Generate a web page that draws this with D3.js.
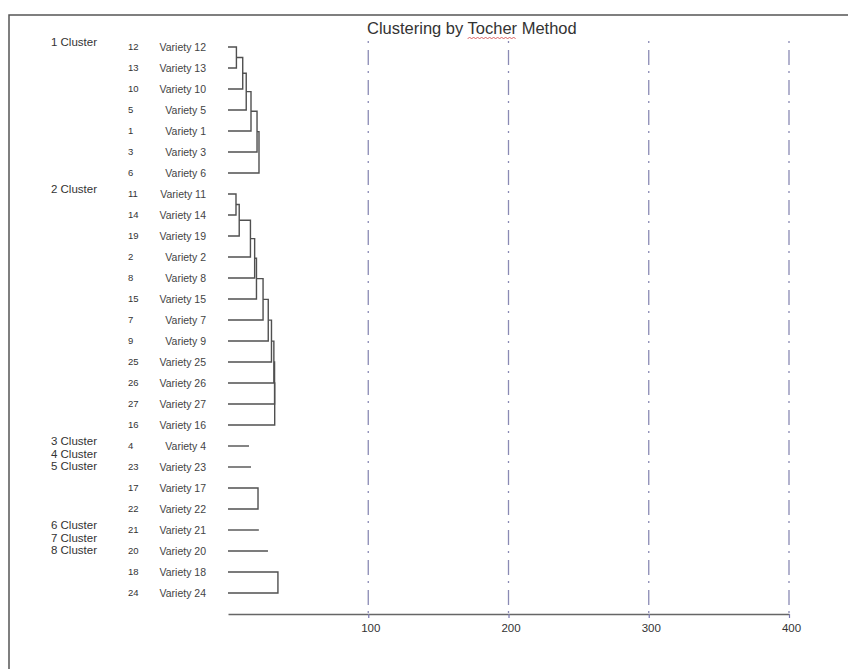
<!DOCTYPE html>
<html>
<head>
<meta charset="utf-8">
<script src="https://cdn.jsdelivr.net/npm/d3@7"></script>
<style>
  html, body { margin: 0; padding: 0; background: #fff; }
  svg { display: block; font-family: 'Liberation Sans', Arial, sans-serif; }
</style>
</head>
<body>
<div id="chart"></div>
<script>
// Tocher clusters: leaf order and the chained merge heights inside each cluster
const clusterLabels = ['1 Cluster', '2 Cluster', '3 Cluster', '4 Cluster', '5 Cluster', '6 Cluster', '7 Cluster', '8 Cluster'];
const clusterLeaves = [
  [12, 13, 10, 5, 1, 3, 6],
  [11, 14, 19, 2, 8, 15, 7, 9, 25, 26, 27, 16],
  [4],
  [23],
  [17, 22],
  [21],
  [20],
  [18, 24]
];
const clusterMerges = [
  [6, 10.5, 13, 16.4, 20.7, 22.1],
  [5.7, 8, 16, 19, 20.3, 25, 28.7, 31, 32.7, 33.2, 33.3],
  [15],
  [16.4],
  [21.4],
  [22],
  [28.5],
  [35.6]
];
const axisTicks = [100, 200, 300, 400];
const title = 'Clustering by Tocher Method';

const width = 848;
const height = 669;

const svg = d3.select('#chart')
  .append('svg')
  .attr('width', width)
  .attr('height', height);

// frame (cropped: only top and left edges are visible)
svg.append('path')
  .attr('d', `M9,${height} L9,15 L${width},15`)
  .attr('fill', 'none')
  .attr('stroke', '#555')
  .attr('stroke-width', 1.5);

const leafOrder = clusterLeaves.flat();

// scales
const x = d3.scaleLinear()
  .domain([0, 400])
  .range([228, 789]);

const y = d3.scalePoint()
  .domain(leafOrder)
  .range([47, 593]);

const axisY = 614;

// vertical dash-dot reference lines
svg.append('g')
  .selectAll('line')
  .data(axisTicks)
  .enter()
  .append('line')
  .attr('x1', d => x(d))
  .attr('x2', d => x(d))
  .attr('y1', 41)
  .attr('y2', axisY)
  .attr('stroke', '#8a8ab4')
  .attr('stroke-width', 1.3)
  .attr('stroke-dasharray', '2,7,15,6');

// bottom axis
const axis = svg.append('g')
  .attr('transform', `translate(0,${axisY})`)
  .call(d3.axisBottom(x).tickValues(axisTicks).tickSize(4).tickSizeOuter(0).tickPadding(6));

axis.select('.domain')
  .attr('stroke', '#666')
  .attr('stroke-width', 1.5);

axis.selectAll('.tick line')
  .attr('stroke', '#7a7ab0')
  .attr('stroke-width', 1.2);

axis.selectAll('.tick text')
  .attr('font-family', "'Liberation Sans', Arial, sans-serif")
  .attr('font-size', 11.5)
  .attr('fill', '#333')
  .attr('dx', 2);

// title
const titleText = svg.append('text')
  .attr('x', 367)
  .attr('y', 34)
  .attr('font-size', 16.5)
  .attr('fill', '#333')
  .text(title);

// spell-check squiggle under "Tocher"
const tNode = titleText.node();
const start = title.indexOf('Tocher');
const sx = 367 + tNode.getSubStringLength(0, start);
const sw = tNode.getSubStringLength(start, 6);
const squiggle = d3.range(0, Math.floor(sw / 2) + 1).map(i => [sx + i * 2, i % 2 ? 37 : 39]);
svg.append('path')
  .attr('d', d3.line()(squiggle))
  .attr('fill', 'none')
  .attr('stroke', '#d04040')
  .attr('stroke-width', 0.8);

// leaf number and variety name
const leaves = svg.append('g');

leaves.selectAll('text.num')
  .data(leafOrder)
  .enter()
  .append('text')
  .attr('class', 'num')
  .attr('x', 128)
  .attr('y', d => y(d))
  .attr('dy', '0.35em')
  .attr('font-size', 9.5)
  .attr('fill', '#333')
  .text(d => d);

leaves.selectAll('text.name')
  .data(leafOrder)
  .enter()
  .append('text')
  .attr('class', 'name')
  .attr('x', 206)
  .attr('y', d => y(d))
  .attr('dy', '0.35em')
  .attr('text-anchor', 'end')
  .attr('font-size', 10.5)
  .attr('fill', '#444')
  .text(d => `Variety ${d}`);

// cluster labels: 3-5 and 6-8 are stacked next to their first leaf group
const labelAnchor = [0, 1, 2, 2, 2, 5, 5, 5];
svg.append('g')
  .selectAll('text')
  .data(clusterLabels)
  .enter()
  .append('text')
  .attr('x', 97)
  .attr('y', (d, i) => y(clusterLeaves[labelAnchor[i]][0]) - 5 + (i - labelAnchor[i]) * 12.5)
  .attr('dy', '0.35em')
  .attr('text-anchor', 'end')
  .attr('font-size', 11.5)
  .attr('fill', '#333')
  .text(d => d);

// dendrogram: each cluster is a chain, new leaf joins the running node
const line = d3.line();
const tree = svg.append('g');

clusterLeaves.forEach((ids, c) => {
  const merges = clusterMerges[c];
  const segments = [];

  if (ids.length === 1) {
    segments.push([[x(0), y(ids[0])], [x(merges[0]), y(ids[0])]]);
  } else {
    let node = { y: y(ids[0]), h: 0 };
    for (let k = 1; k < ids.length; k++) {
      const h = merges[k - 1];
      const ly = y(ids[k]);
      segments.push([[x(node.h), node.y], [x(h), node.y], [x(h), ly], [x(0), ly]]);
      node = { y: (node.y + ly) / 2, h: h };
    }
  }

  tree.selectAll(null)
    .data(segments)
    .enter()
    .append('path')
    .attr('d', d => line(d))
    .attr('fill', 'none')
    .attr('stroke', '#505050')
    .attr('stroke-width', 1.4);
});
</script>
</body>
</html>
